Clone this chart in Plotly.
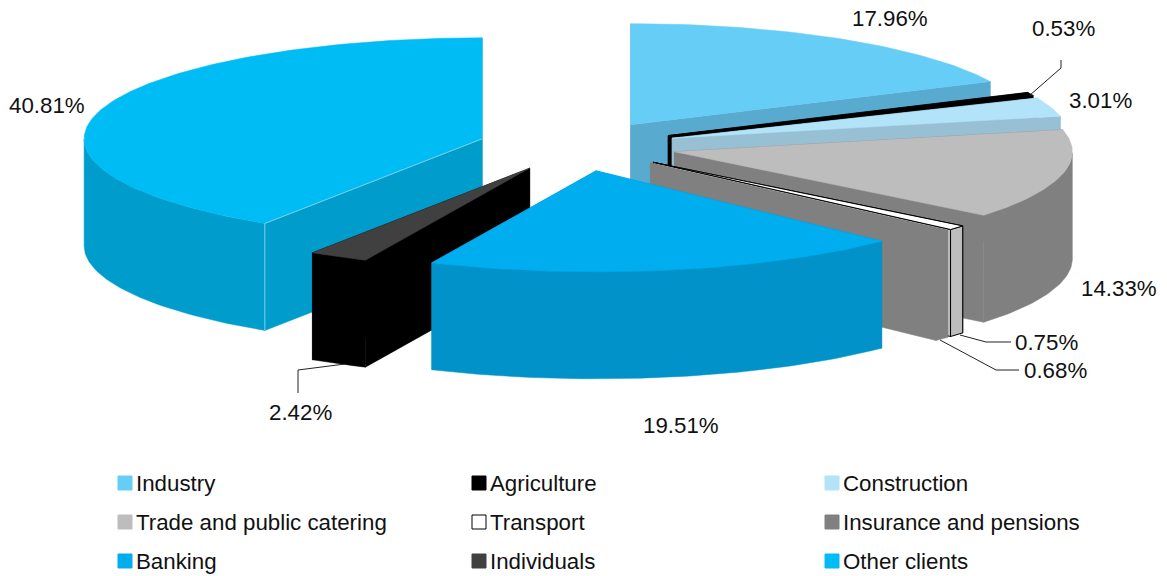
import math
import plotly.graph_objects as go

# ---- data ----
categories = ["Industry", "Agriculture", "Construction", "Trade and public catering",
              "Transport", "Insurance and pensions", "Banking", "Individuals", "Other clients"]
shares = [17.96, 0.53, 3.01, 14.33, 0.75, 0.68, 19.51, 2.42, 40.81]
labels = ["17.96%", "0.53%", "3.01%", "14.33%", "0.75%", "0.68%", "19.51%", "2.42%", "40.81%"]

# ---- style ----
top_colors = ["#66CDF6", "#000000", "#B3E3F9", "#BDBDBD", "#FFFFFF", "#808080", "#00ADEF", "#404040", "#00BCF4"]
wall_colors = ["#58ABCF", "#000000", "#97C0D4", "#808080", "#BDBDBD", "#808080", "#0092C9", "#000000", "#009DCC"]
edge_colors = [None, None, None, None, "#000000", None, None, None, None]
paint_order = [0, 1, 2, 3, 8, 4, 5, 7, 6]

# pie projection in page pixels
CX, CY, RX, RY, DEPTH, EXPLODE = 577.5, 146, 398, 101, 107, 0.25

FONT = "Liberation Sans"
TEXT = "#111111"
FONT_SIZE = 22.3
label_xy = [(890, 18), (1063, 28), (1100, 100), (1119, 288), (1046, 342), (1055, 370),
            (681, 425), (300, 412), (47, 105)]
leaders = {1: [(1030, 95), (1061, 68), (1061, 60)],
           4: [(960, 335), (986, 342), (1011, 342)],
           5: [(940, 340), (996, 370), (1019, 370)],
           7: [(345, 364), (298, 370), (298, 393)]}
legend_x = [125, 479, 832]
legend_y = [483, 522, 561]
LEGEND_TEXT_GAP = 9
CORNER_LINE = "#7CCFE6"


def pt(c, theta, h=0.0):
    return c[0] + RX * math.sin(theta), c[1] - RY * math.cos(theta) + h


def poly(points, color, edge=None, name=""):
    xs = [p[0] for p in points] + [points[0][0]]
    ys = [p[1] for p in points] + [points[0][1]]
    return go.Scatter(x=xs, y=ys, mode="lines", fill="toself", fillcolor=color,
                      line=dict(color=edge or color, width=1 if edge else 0.5),
                      hoverinfo="skip", showlegend=False, name=name)


total = sum(shares)
bounds = []
acc = 0.0
for v in shares:
    bounds.append((acc / total * 2 * math.pi, (acc + v) / total * 2 * math.pi))
    acc += v

fig = go.Figure()
for i in paint_order:
    t0, t1 = bounds[i]
    mid = (t0 + t1) / 2
    c = (CX + EXPLODE * RX * math.sin(mid), CY - EXPLODE * RY * math.cos(mid))
    n = max(3, int((t1 - t0) * 60))
    arc = [t0 + (t1 - t0) * k / n for k in range(n + 1)]
    edge = edge_colors[i]
    name = categories[i]
    # radial walls
    for t in (t0, t1):
        a = pt(c, t)
        fig.add_trace(poly([c, a, (a[0], a[1] + DEPTH), (c[0], c[1] + DEPTH)], wall_colors[i], edge, name))
    # outer wall: only the front-facing part of the rim
    front = [t for t in arc if math.cos(t) <= 0]
    if len(front) > 1:
        up = [pt(c, t) for t in front]
        down = [pt(c, t, DEPTH) for t in reversed(front)]
        fig.add_trace(poly(up + down, wall_colors[i], edge, name))
    # top face
    fig.add_trace(poly([c] + [pt(c, t) for t in arc], top_colors[i], edge, name))
    # pale highlight along the corner of the largest slice
    if name == "Other clients":
        a = pt(c, t0)
        fig.add_trace(go.Scatter(x=[c[0], a[0], a[0]], y=[c[1], a[1], a[1] + DEPTH], mode="lines",
                                 line=dict(color=CORNER_LINE, width=1), hoverinfo="skip",
                                 showlegend=False, name=name))

# legend, drawn as markers with real text
legend_text = []
for k, name in enumerate(categories):
    lx = legend_x[k % 3]
    ly = legend_y[k // 3]
    fig.add_trace(go.Scatter(
        x=[lx], y=[ly], mode="markers",
        marker=dict(symbol="square", size=14, color=top_colors[k],
                    line=dict(color="#000000" if top_colors[k] == "#FFFFFF" else top_colors[k], width=1)),
        hoverinfo="skip", showlegend=False, name=name))
    legend_text.append(dict(x=lx + LEGEND_TEXT_GAP, y=ly, xref="x", yref="y", text=name, showarrow=False,
                            font=dict(family=FONT, size=FONT_SIZE, color=TEXT),
                            xanchor="left", yanchor="middle"))

shapes = []
for i, path in leaders.items():
    d = "M " + " L ".join(f"{x} {y}" for x, y in path)
    shapes.append(dict(type="path", path=d, xref="x", yref="y", line=dict(color="#222222", width=1)))

annotations = [dict(x=x, y=y, xref="x", yref="y", text=t, showarrow=False,
                    font=dict(family=FONT, size=FONT_SIZE, color=TEXT), xanchor="center", yanchor="middle")
               for t, (x, y) in zip(labels, label_xy)] + legend_text

fig.update_layout(
    width=1167, height=576, margin=dict(l=0, r=0, t=0, b=0),
    paper_bgcolor="#FFFFFF", plot_bgcolor="#FFFFFF", showlegend=False,
    xaxis=dict(range=[0, 1167], visible=False, fixedrange=True),
    yaxis=dict(range=[576, 0], visible=False, fixedrange=True),
    shapes=shapes, annotations=annotations,
)
fig.write_html("out.html", config=dict(displayModeBar=False),
               post_script="document.body.style.margin='0';")
